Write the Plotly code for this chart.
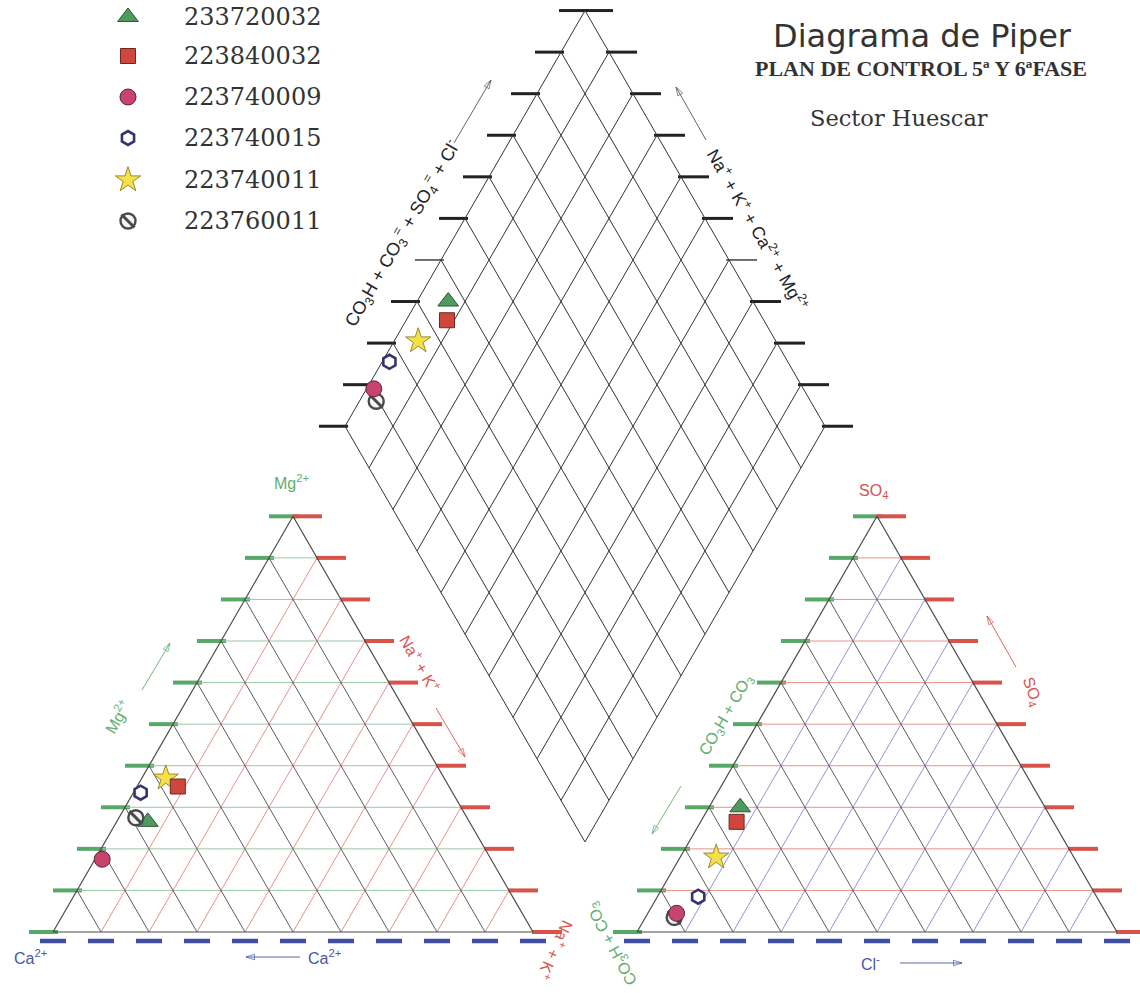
import plotly.graph_objects as go

# ---------------------------------------------------------------------------
# Data: sample identifiers and their ionic composition (% meq/l)
# ---------------------------------------------------------------------------
samples = ["233720032", "223840032", "223740009", "223740015", "223740011", "223760011"]

# cations
ca = [67.0, 56.5, 81.0, 65.0, 58.0, 69.0]
mg = [26.5, 35.0, 17.5, 33.5, 37.0, 27.5]
nak = [6.5, 8.5, 1.5, 1.5, 5.0, 3.5]

# anions
hco3 = [63.5, 66.0, 89.5, 83.0, 74.5, 90.5]
so4 = [30.0, 26.5, 4.5, 8.5, 18.0, 3.5]
cl = [6.5, 7.5, 6.0, 8.5, 7.5, 6.0]

grid_pct = list(range(0, 101, 10))

# ---------------------------------------------------------------------------
# Marker styles per sample
# ---------------------------------------------------------------------------
styles = [
    dict(symbol="triangle-up", size=18, color="#4f9a5f", line=dict(color="#2d5535", width=1)),
    dict(symbol="square", size=15, color="#d0463c", line=dict(color="#6a2a20", width=1)),
    dict(symbol="circle", size=16, color="#c8436e", line=dict(color="#5a2535", width=1)),
    dict(symbol="hexagon", size=14, color="#ffffff", line=dict(color="#34346e", width=2.6)),
    dict(symbol="star", size=19, color="#f3e04a", line=dict(color="#9a8a2a", width=1)),
    dict(symbol="circle", size=15, color="#f4f4f4", line=dict(color="#4a4a4a", width=2.4)),
]
draw_order = [0, 4, 1, 5, 3, 2]

# ---------------------------------------------------------------------------
# Page geometry (pixels, y downwards)
# ---------------------------------------------------------------------------
W, HGT = 1140, 993
SQ3 = 3 ** 0.5
SIDE = 480.0
TRI_H = SIDE * SQ3 / 2
BASE_Y = 932.0
CAT_X0 = 53.0
AN_X0 = 637.0
GAP = AN_X0 - CAT_X0 - SIDE
DIA_BX = CAT_X0 + SIDE + GAP / 2
DIA_BY = BASE_Y - GAP * SQ3 / 2


def tri_xy(x0, right, top):
    """Ternary -> page; right = bottom-right corner share, top = apex share."""
    return x0 + SIDE * (right + top / 2), BASE_Y - TRI_H * top


def dia_xy(left, right):
    """Diamond position from Ca+Mg share (left) and SO4+Cl share (right)."""
    return DIA_BX + SIDE / 2 * (right - left), DIA_BY - TRI_H * (left + right)


fig = go.Figure()


def add_segments(segs, color, width):
    xs, ys = [], []
    for (x1, y1), (x2, y2) in segs:
        xs += [x1, x2, None]
        ys += [y1, y2, None]
    fig.add_trace(go.Scatter(x=xs, y=ys, mode="lines", hoverinfo="skip",
                             line=dict(color=color, width=width), showlegend=False))


def add_arrow(tail, head, color):
    fig.add_trace(go.Scatter(x=[tail[0], head[0]], y=[tail[1], head[1]],
                             mode="lines+markers", hoverinfo="skip", showlegend=False,
                             line=dict(color=color, width=0.9),
                             marker=dict(symbol=["circle", "arrow-open"], size=[0, 9],
                                         angleref="previous", color=color,
                                         line=dict(color=color, width=1))))


GREEN = "#58a868"
RED = "#d9534a"
BLUE = "#3f4fa6"
BLACK = "#222222"

# ---------------------------------------------------------------------------
# Scale ticks
# ---------------------------------------------------------------------------
for x0 in (CAT_X0, AN_X0):
    left_t, right_t, dash_t = [], [], []
    for p in grid_pct:
        f = p / 100
        lx, ly = tri_xy(x0, 0, f)
        rx, ry = tri_xy(x0, 1 - f, f)
        left_t.append(((lx - 24, ly), (lx + 5, ly)))
        right_t.append(((rx - 1, ry), (rx + 29, ry)))
        bx, by = tri_xy(x0, f, 0)
        dash_t.append(((bx - 13, by + 9), (bx + 13, by + 9)))
    add_segments(left_t, GREEN, 4)
    add_segments(right_t, RED, 4)
    add_segments(dash_t, BLUE, 4.5)

dia_tick_w = [3, 3, 3, 3, 1.3, 3, 3, 3, 3, 3, 3]
for i, p in enumerate(grid_pct):
    f = p / 100
    lx, ly = dia_xy(1.0, f)      # upper-left edge
    rx, ry = dia_xy(f, 1.0)      # upper-right edge
    add_segments([((lx - 26, ly), (lx + 3, ly)), ((rx - 3, ry), (rx + 28, ry))],
                 BLACK, dia_tick_w[i])

# ---------------------------------------------------------------------------
# Grids
# ---------------------------------------------------------------------------
def tri_grid(x0, c_top, c_right, c_left):
    top_l, right_l, left_l = [], [], []
    for p in grid_pct[1:-1]:
        f = p / 100
        top_l.append((tri_xy(x0, 0, f), tri_xy(x0, 1 - f, f)))
        right_l.append((tri_xy(x0, f, 0), tri_xy(x0, f, 1 - f)))
        left_l.append((tri_xy(x0, 1 - f, 0), tri_xy(x0, 0, 1 - f)))
    add_segments(top_l, c_top, 1)
    add_segments(right_l, c_right, 1)
    add_segments(left_l, c_left, 1)
    edges = [(tri_xy(x0, 0, 0), tri_xy(x0, 1, 0)),
             (tri_xy(x0, 1, 0), tri_xy(x0, 0, 1)),
             (tri_xy(x0, 0, 1), tri_xy(x0, 0, 0))]
    add_segments(edges, "#4a4a4a", 1.2)


tri_grid(CAT_X0, "#9cc6a6", "#e8918a", "#5c5c66")
tri_grid(AN_X0, "#e8918a", "#8f97cc", "#5c5c5c")

dia_lines = []
for p in grid_pct:
    f = p / 100
    dia_lines.append((dia_xy(f, 0), dia_xy(f, 1)))
    dia_lines.append((dia_xy(0, f), dia_xy(1, f)))
add_segments(dia_lines, "#333333", 1)

# ---------------------------------------------------------------------------
# Samples in the three fields
# ---------------------------------------------------------------------------
for i in draw_order:
    tc = ca[i] + mg[i] + nak[i]
    ta = hco3[i] + so4[i] + cl[i]
    px, py = [], []
    x, y = tri_xy(CAT_X0, nak[i] / tc, mg[i] / tc)
    px.append(x); py.append(y)
    x, y = tri_xy(AN_X0, cl[i] / ta, so4[i] / ta)
    px.append(x); py.append(y)
    x, y = dia_xy((ca[i] + mg[i]) / tc, (so4[i] + cl[i]) / ta)
    px.append(x); py.append(y)
    st = styles[i]
    fig.add_trace(go.Scatter(x=px, y=py, mode="markers", name=samples[i], showlegend=False,
                             marker=dict(symbol=st["symbol"], size=st["size"],
                                         color=st["color"], line=st["line"])))
    if i == 5:
        fig.add_trace(go.Scatter(x=px, y=py, mode="markers", showlegend=False, hoverinfo="skip",
                                 marker=dict(symbol="line-nw", size=13,
                                             line=dict(color="#4a4a4a", width=3))))

# ---------------------------------------------------------------------------
# Key (symbols + sample ids)
# ---------------------------------------------------------------------------
key_y = [17, 56, 97, 138, 180, 221]
for i, name in enumerate(samples):
    st = styles[i]
    fig.add_trace(go.Scatter(x=[128], y=[key_y[i]], mode="markers", showlegend=False,
                             hoverinfo="skip",
                             marker=dict(symbol=st["symbol"], size=st["size"],
                                         color=st["color"], line=st["line"])))
    if i == 5:
        fig.add_trace(go.Scatter(x=[128], y=[key_y[i]], mode="markers", showlegend=False,
                                 hoverinfo="skip",
                                 marker=dict(symbol="line-nw", size=13,
                                             line=dict(color="#4a4a4a", width=3))))

annotations = []


def label(text, x, y, size, color, family="Liberation Sans", angle=0, xanchor="center"):
    annotations.append(dict(text=text, x=x, y=y, xref="x", yref="y", showarrow=False,
                            textangle=angle, xanchor=xanchor, yanchor="middle",
                            font=dict(family=family, size=size, color=color)))


for i, name in enumerate(samples):
    label(name, 182, key_y[i], 24, "#333333", family="DejaVu Serif", xanchor="left")

# titles
label("Diagrama de Piper", 922, 36, 32, "#333333", family="DejaVu Sans")
label("<b>PLAN DE CONTROL 5ª Y 6ªFASE</b>", 921, 68, 22, "#333333", family="Liberation Serif")
label("Sector Huescar", 899, 118, 22.5, "#333333", family="DejaVu Serif")

SANS = "Liberation Sans Narrow, Liberation Sans"
GTXT = "#5fae6e"
RTXT = "#d9534f"
BTXT = "#4a56a8"

# diamond axis labels
label("CO<sub>3</sub>H + CO<sub>3</sub><sup>=</sup> + SO<sub>4</sub><sup>=</sup> + Cl<sup>-</sup>",
      402, 233, 18, "#222222", family=SANS, angle=-60)
label("Na<sup>+</sup> + K<sup>+</sup> + Ca<sup>2+</sup> + Mg<sup>2+</sup>",
      758, 229, 17.5, "#222222", family=SANS, angle=60)
add_arrow((454, 143), (491, 80), "#555555")
add_arrow((706, 140), (676, 87), "#555555")

# cation triangle labels
label("Mg<sup>2+</sup>", 291, 482, 16, GTXT, family=SANS)
label("Mg<sup>2+</sup>", 117, 717, 16, GTXT, family=SANS, angle=-60)
add_arrow((142, 690), (170, 643), GTXT)
label("Na<sup>+</sup> + K<sup>+</sup>", 420, 663, 16, RTXT, family=SANS, angle=60)
add_arrow((436, 708), (465, 757), RTXT)
label("Ca<sup>2+</sup>", 30, 957, 16, BTXT, family=SANS)
label("Ca<sup>2+</sup>", 324, 957, 16, BTXT, family=SANS)
add_arrow((300, 957), (246, 957), BTXT)
label("Na<sup>+</sup> + K<sup>+</sup>", 556, 950, 16, RTXT, family=SANS, angle=115)
label("CO<sub>3</sub>H + CO<sub>3</sub>", 612, 944, 16, GTXT, family=SANS, angle=-118)

# anion triangle labels
label("SO<sub>4</sub>", 873, 491, 16, RTXT, family=SANS)
label("SO<sub>4</sub>", 1032, 691, 16, RTXT, family=SANS, angle=70)
add_arrow((1016, 667), (987, 616), RTXT)
label("CO<sub>3</sub>H + CO<sub>3</sub>", 726, 715, 16, GTXT, family=SANS, angle=-60)
add_arrow((681, 786), (652, 834), GTXT)
label("Cl<sup>-</sup>", 870, 963, 16, BTXT, family=SANS)
add_arrow((900, 963), (962, 963), BTXT)

fig.update_layout(
    width=W, height=HGT, autosize=False,
    margin=dict(l=0, r=0, t=0, b=0, pad=0),
    paper_bgcolor="#ffffff", plot_bgcolor="#ffffff",
    xaxis=dict(range=[0, W], visible=False, fixedrange=True),
    yaxis=dict(range=[HGT, 0], visible=False, fixedrange=True),
    annotations=annotations,
    showlegend=False,
)

fig.write_html("out.html", config={"displayModeBar": False})
